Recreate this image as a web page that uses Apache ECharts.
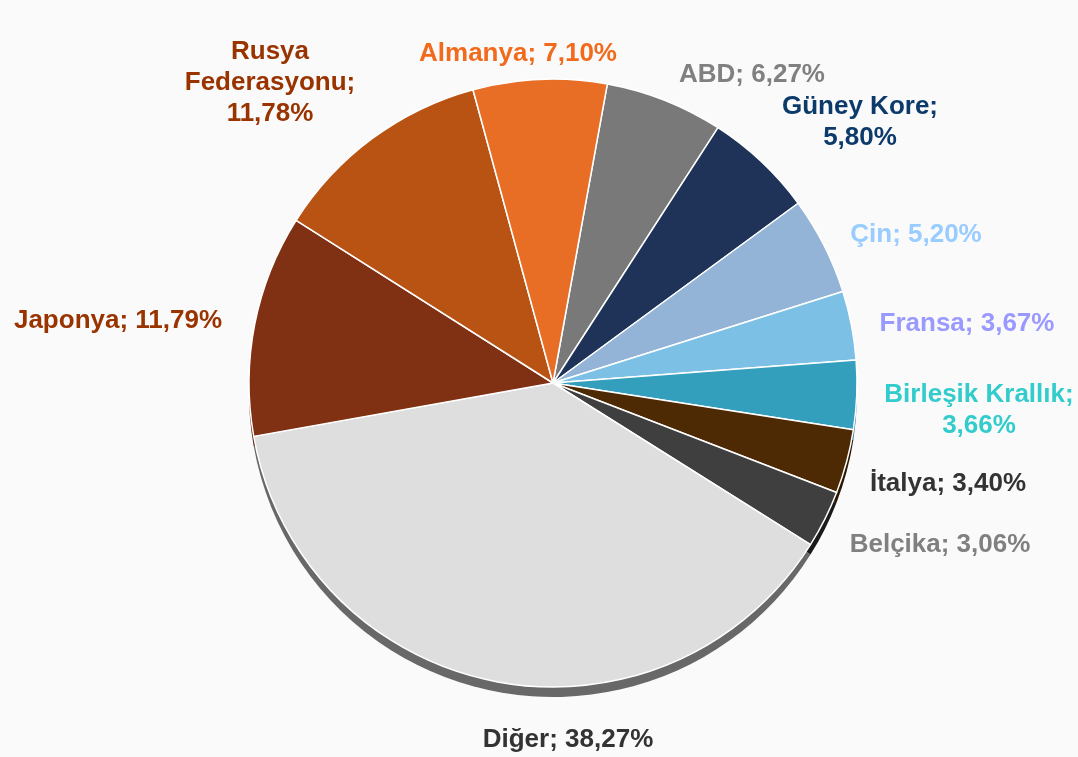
<!DOCTYPE html>
<html>
<head>
<meta charset="utf-8">
<title>Pie</title>
<script src="https://cdn.jsdelivr.net/npm/echarts@6/dist/echarts.min.js"></script>
<style>
	html, body { margin: 0; padding: 0; background: #fafafa; }
	#chart { width: 1078px; height: 757px; }
</style>
</head>
<body>
<div id="chart"></div>
<script>
// ülkeler ve payları (%), saat yönünde ABD'den başlayarak
const countries = ["ABD", "Güney Kore", "Çin", "Fransa", "Birleşik Krallık", "İtalya", "Belçika", "Diğer", "Japonya", "Rusya\nFederasyonu", "Almanya"]
const shares = [6.27, 5.80, 5.20, 3.67, 3.66, 3.40, 3.06, 38.27, 11.79, 11.78, 7.10]
// yüzde yeni satırda mı
const breakBeforeValue = [false, true, false, false, true, false, false, false, false, true, false]

const sliceColors = ["#797979", "#1f3358", "#93b4d6", "#7dc0e6", "#339fbd", "#4d2904", "#3f3f3f", "#dedede", "#813113", "#b85314", "#e86d25"]
const sideColors = ["#555555", "#141f36", "#6a84a0", "#5a8cab", "#1f6f85", "#2a1500", "#1a1a1a", "#686868", "#5a220c", "#833a0c", "#a84c18"]
const labelColors = ["#808080", "#0b3a6b", "#99ccff", "#9999ff", "#33cccc", "#333333", "#808080", "#333333", "#993300", "#993300", "#f26b1d"]
// etiket merkezleri (px)
const labelPos = [[752, 75], [860, 122], [916, 235], [967, 324], [979, 410], [948, 484], [940, 545], [568, 740], [118, 321], [270, 83], [518, 54]]

const center = [553, 383]
const radius = 304
const depth = 10

let chart = echarts.init(document.getElementById("chart"))

let topData = countries.map(function (name, i) {
	return {
		name: name,
		value: shares[i],
		itemStyle: {color: sliceColors[i]},
		label: {color: labelColors[i]}
	}
})
let sideData = countries.map(function (name, i) {
	return {
		name: name,
		value: shares[i],
		itemStyle: {color: sideColors[i]}
	}
})

chart.setOption({
	backgroundColor: "#fafafa",
	animation: false,
	series: [
		{
			// 3B kenar
			type: "pie",
			z: 1,
			silent: true,
			center: [center[0], center[1] + depth],
			radius: radius,
			startAngle: 79.7,
			data: sideData,
			label: {show: false},
			labelLine: {show: false},
			itemStyle: {borderWidth: 0}
		},
		{
			type: "pie",
			z: 2,
			center: center,
			radius: radius,
			startAngle: 79.7,
			avoidLabelOverlap: false,
			data: topData,
			itemStyle: {
				borderColor: "#ffffff",
				borderWidth: 1.5
			},
			label: {
				show: true,
				position: "outside",
				fontFamily: "Liberation Sans, Arial, sans-serif",
				fontWeight: "bold",
				fontSize: 26,
				lineHeight: 31,
				align: "center",
				formatter: function (p) {
					let pct = p.value.toFixed(2).replace(".", ",") + "%"
					let sep = breakBeforeValue[p.dataIndex] ? ";\n" : "; "
					return p.name + sep + pct
				}
			},
			labelLine: {show: false},
			labelLayout: function (params) {
				let pos = labelPos[params.dataIndex]
				return {
					x: pos[0],
					y: pos[1],
					align: "center",
					verticalAlign: "middle"
				}
			},
			emphasis: {disabled: true}
		}
	]
})
</script>
</body>
</html>
